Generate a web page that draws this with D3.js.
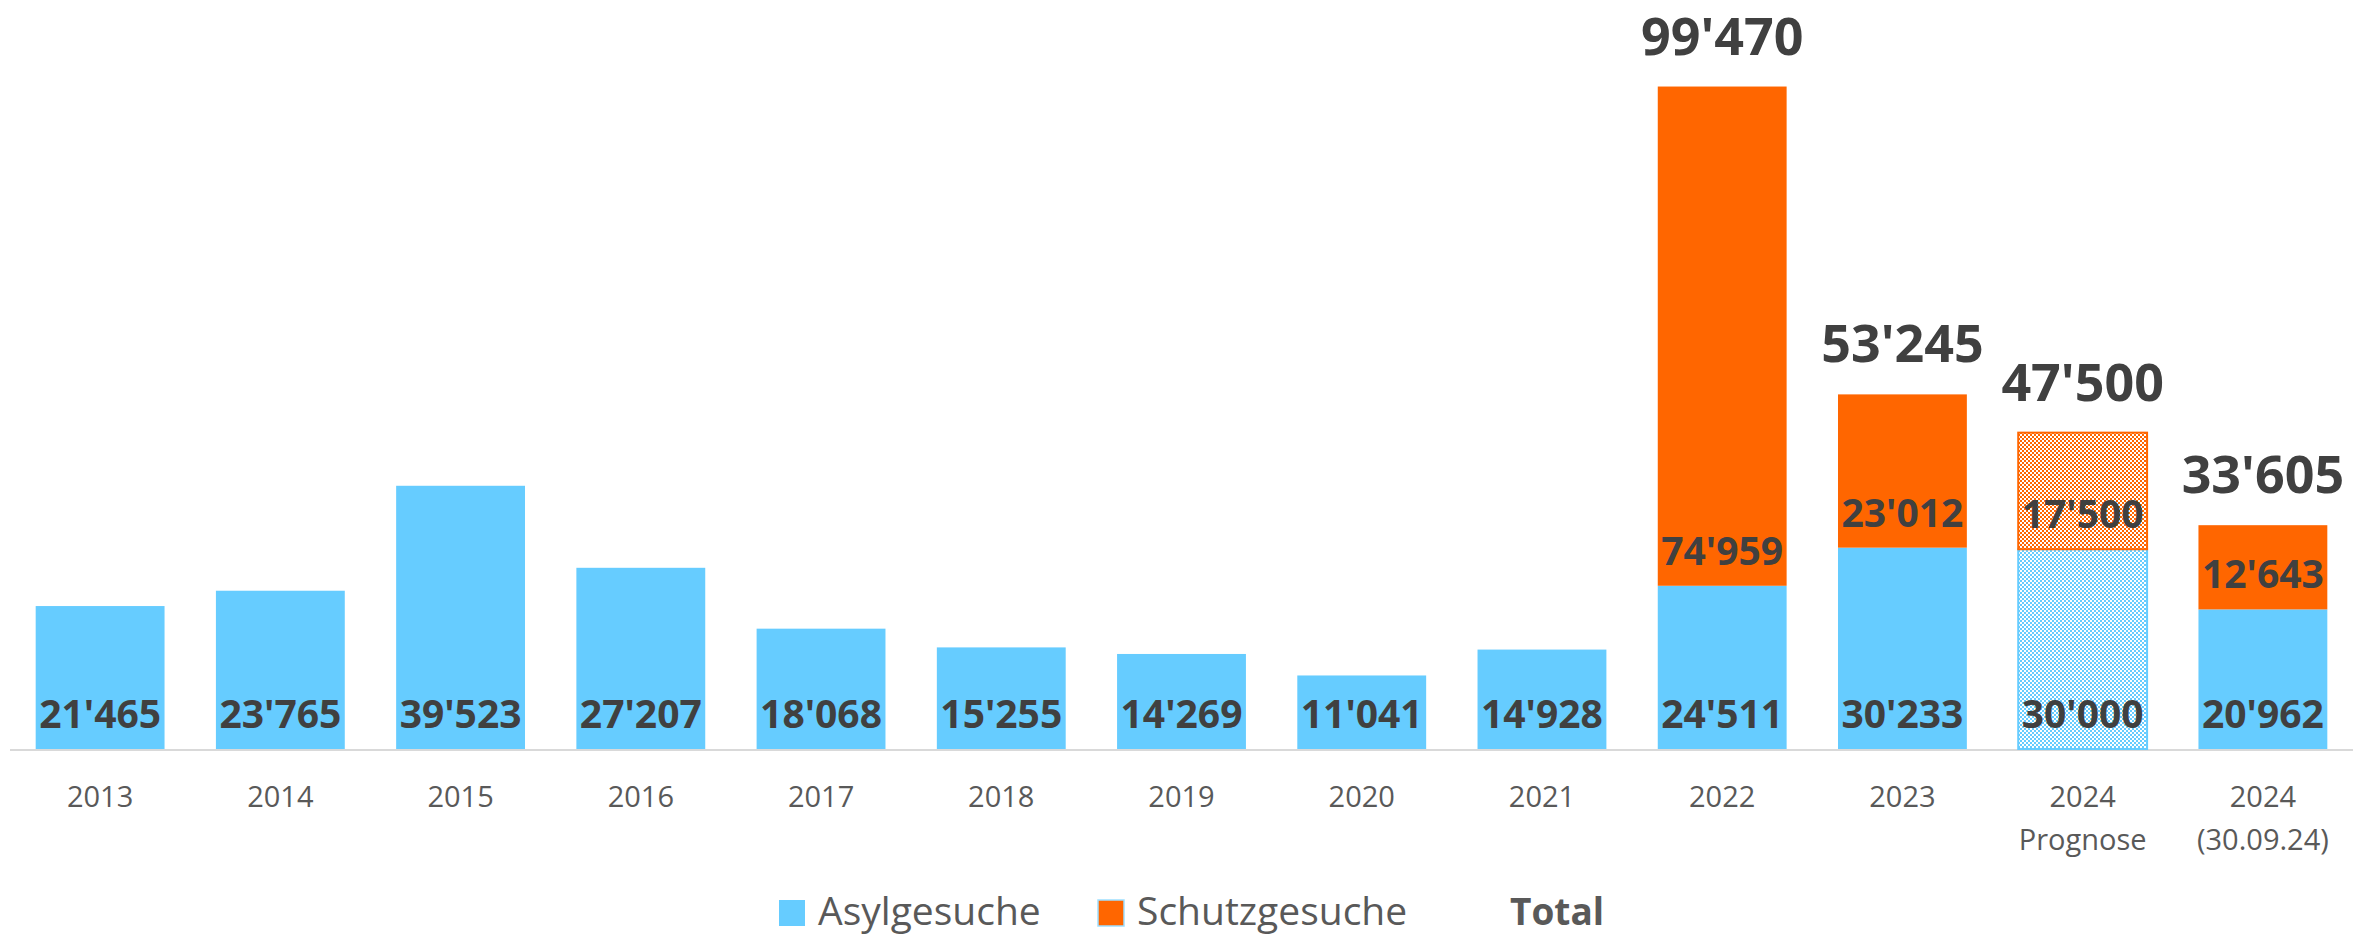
<!DOCTYPE html>
<html>
<head>
<meta charset="utf-8">
<script src="https://cdn.jsdelivr.net/npm/d3@7"></script>
<style>
  body { margin: 0; background: #fff; }
  svg { display: block; font-family: "Open Sans", "Noto Sans", sans-serif; }
</style>
</head>
<body>
<div id="chart"></div>
<script>
// categories (second word goes on a second tick line)
var categories = ["2013", "2014", "2015", "2016", "2017", "2018", "2019", "2020", "2021", "2022", "2023", "2024 Prognose", "2024 (30.09.24)"];
var asylgesuche = [21465, 23765, 39523, 27207, 18068, 15255, 14269, 11041, 14928, 24511, 30233, 30000, 20962];
var schutzgesuche = [0, 0, 0, 0, 0, 0, 0, 0, 0, 74959, 23012, 17500, 12643];
var prognose = [false, false, false, false, false, false, false, false, false, false, false, true, false];
var seriesNames = ["Asylgesuche", "Schutzgesuche", "Total"];

var colorBlue = "#66CCFF",
    colorOrange = "#FF6600",
    textDark = "#404040",
    textGrey = "#595959";

var width = 2353, height = 936;
var margin = { top: 83, right: 0, bottom: 187, left: 10 };

var svg = d3.select("#chart")
  .append("svg")
  .attr("width", width)
  .attr("height", height);

// fine checker patterns for the forecast bar
var defs = svg.append("defs");
[["checkBlue", colorBlue], ["checkOrange", colorOrange]].forEach(function(p) {
  var pat = defs.append("pattern")
    .attr("id", p[0])
    .attr("patternUnits", "userSpaceOnUse")
    .attr("width", 4)
    .attr("height", 4);
  pat.append("rect").attr("width", 4).attr("height", 4).attr("fill", "#fff");
  pat.append("rect").attr("x", 0).attr("y", 0).attr("width", 2).attr("height", 2).attr("fill", p[1]);
  pat.append("rect").attr("x", 2).attr("y", 2).attr("width", 2).attr("height", 2).attr("fill", p[1]);
});

var x = d3.scaleBand()
  .domain(categories)
  .range([margin.left, width - margin.right])
  .paddingInner(0.285)
  .paddingOuter(0.1425);

var y = d3.scaleLinear()
  .domain([0, 100000])
  .range([height - margin.bottom, margin.top]);

var data = categories.map(function(c, i) {
  return { cat: c, a: asylgesuche[i], s: schutzgesuche[i], p: prognose[i] };
});

function fmt(v) {
  return d3.format(",")(v).replace(/,/g, "'");
}

// x axis
var xAxis = svg.append("g")
  .attr("transform", "translate(0," + y(0) + ")")
  .call(d3.axisBottom(x).tickSize(0));
xAxis.select(".domain")
  .attr("stroke", "#D9D9D9")
  .attr("stroke-width", 2)
  .attr("d", "M" + margin.left + ",1H" + width);
xAxis.selectAll(".tick text").each(function(d) {
  var t = d3.select(this);
  var parts = d.split(" ");
  t.text(null)
    .attr("y", 0)
    .attr("dy", null)
    .attr("fill", textGrey)
    .attr("font-size", 29)
    .attr("font-family", "Open Sans, sans-serif");
  parts.forEach(function(p, k) {
    t.append("tspan").attr("x", 0).attr("y", 58 + k * 43).text(p);
  });
});

// Asylgesuche bars
svg.selectAll(".bar-a")
  .data(data)
  .enter()
  .append("rect")
  .attr("class", "bar-a")
  .attr("x", function(d) { return x(d.cat); })
  .attr("y", function(d) { return y(d.a); })
  .attr("width", x.bandwidth())
  .attr("height", function(d) { return y(0) - y(d.a); })
  .attr("fill", function(d) { return d.p ? "url(#checkBlue)" : colorBlue; })
  .attr("stroke", function(d) { return d.p ? colorBlue : "none"; })
  .attr("stroke-width", 2);

// Schutzgesuche bars
svg.selectAll(".bar-s")
  .data(data.filter(function(d) { return d.s > 0; }))
  .enter()
  .append("rect")
  .attr("class", "bar-s")
  .attr("x", function(d) { return x(d.cat); })
  .attr("y", function(d) { return y(d.a + d.s); })
  .attr("width", x.bandwidth())
  .attr("height", function(d) { return y(d.a) - y(d.a + d.s); })
  .attr("fill", function(d) { return d.p ? "url(#checkOrange)" : colorOrange; })
  .attr("stroke", function(d) { return d.p ? colorOrange : "none"; })
  .attr("stroke-width", 2);

// segment labels (inside base)
svg.selectAll(".lab-a")
  .data(data)
  .enter()
  .append("text")
  .attr("class", "lab-a")
  .attr("x", function(d) { return x(d.cat) + x.bandwidth() / 2; })
  .attr("y", function(d) { return y(0) - 21; })
  .attr("text-anchor", "middle")
  .attr("font-size", 39)
  .attr("font-weight", "bold")
  .attr("fill", textDark)
  .text(function(d) { return fmt(d.a); });

svg.selectAll(".lab-s")
  .data(data.filter(function(d) { return d.s > 0; }))
  .enter()
  .append("text")
  .attr("class", "lab-s")
  .attr("x", function(d) { return x(d.cat) + x.bandwidth() / 2; })
  .attr("y", function(d) { return y(d.a) - 21; })
  .attr("text-anchor", "middle")
  .attr("font-size", 39)
  .attr("font-weight", "bold")
  .attr("fill", textDark)
  .text(function(d) { return fmt(d.s); });

// totals above stacked bars
svg.selectAll(".lab-t")
  .data(data.filter(function(d) { return d.s > 0; }))
  .enter()
  .append("text")
  .attr("class", "lab-t")
  .attr("x", function(d) { return x(d.cat) + x.bandwidth() / 2; })
  .attr("y", function(d) { return y(d.a + d.s) - 32; })
  .attr("text-anchor", "middle")
  .attr("font-size", 52)
  .attr("font-weight", "bold")
  .attr("fill", textDark)
  .text(function(d) { return fmt(d.a + d.s); });

// legend
var legend = svg.append("g").attr("transform", "translate(0,912)");
var legendX = [779, 1098, 1510];
seriesNames.forEach(function(name, i) {
  var g = legend.append("g").attr("transform", "translate(" + legendX[i] + ",0)");
  if (i < 2) {
    g.append("rect")
      .attr("x", 0)
      .attr("y", -12)
      .attr("width", 26)
      .attr("height", 26)
      .attr("fill", i === 0 ? colorBlue : colorOrange)
      .attr("stroke", i === 1 ? "#9EDFFF" : "none")
      .attr("stroke-width", 1.5);
    g.append("text")
      .attr("x", 39)
      .attr("y", 13)
      .attr("font-size", 39)
      .attr("fill", textGrey)
      .text(name);
  } else {
    g.append("text")
      .attr("x", 0)
      .attr("y", 13)
      .attr("font-size", 37)
      .attr("font-weight", "bold")
      .attr("fill", textGrey)
      .text(name);
  }
});
</script>
</body>
</html>
